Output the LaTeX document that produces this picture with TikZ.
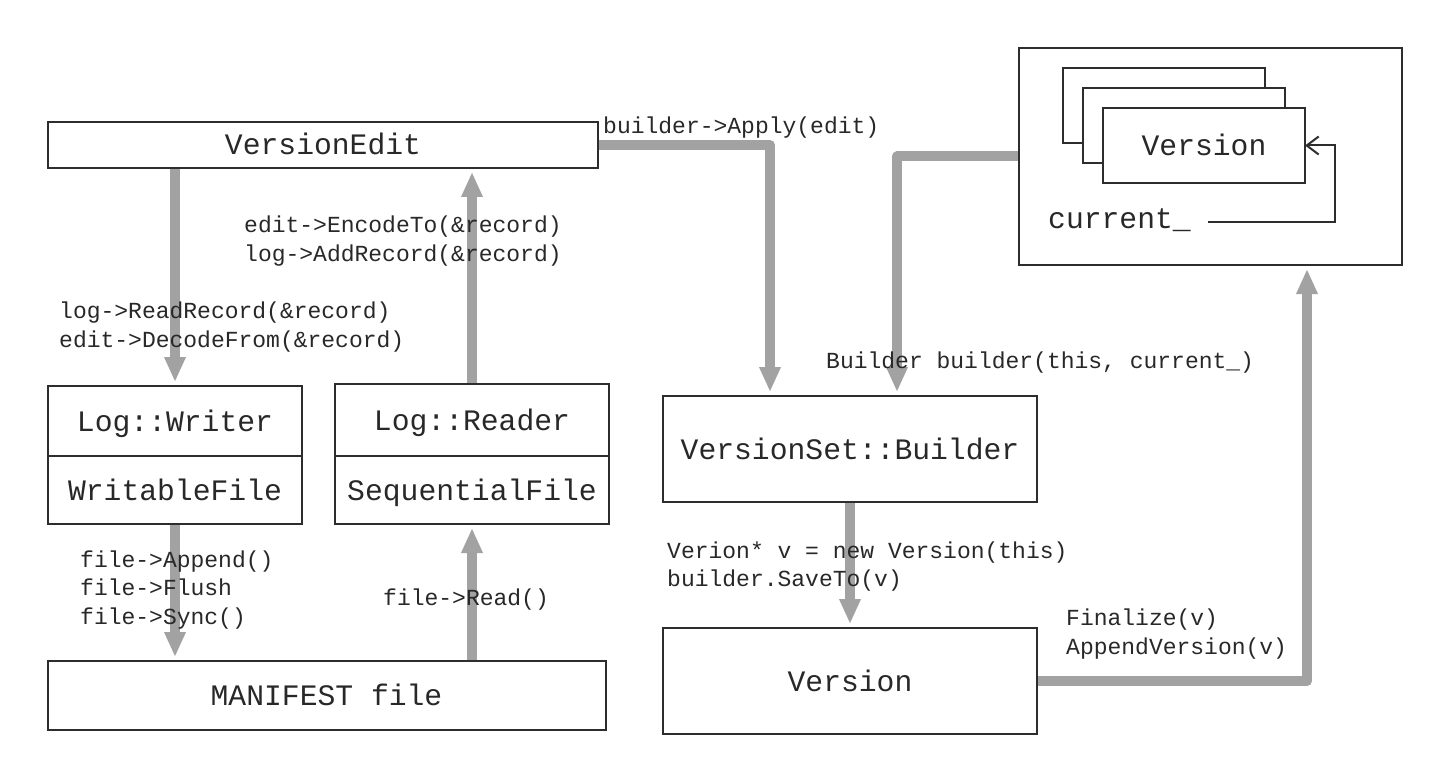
\documentclass[tikz,border=0pt]{standalone}
\usepackage{fontspec}
\setmonofont{Liberation Mono}
\usetikzlibrary{arrows.meta}
\definecolor{arrowgray}{RGB}{162,162,162}
\definecolor{boxline}{RGB}{45,45,45}
\definecolor{txt}{RGB}{40,40,40}
\begin{document}
\begin{tikzpicture}[x=1pt,y=-1pt,
  box/.style={draw=boxline, line width=2pt, fill=white, inner sep=0pt, outer sep=0pt,
    font=\fontsize{29.7}{36}\selectfont\ttfamily, text=txt, text height=23pt, text depth=3pt},
  lbl/.style={font=\fontsize{23}{28.7}\selectfont\ttfamily, text=txt, inner sep=0pt, align=left, anchor=west, yshift=-2pt},
  bigtxt/.style={font=\fontsize{29.7}{36}\selectfont\ttfamily, text=txt, inner sep=0pt},
  flow/.style={draw=arrowgray, line width=10pt, line join=round, -{Triangle[width=20pt,length=25pt]}, shorten >=4pt, shorten <=1pt},
  ptr/.style={draw=boxline, line width=2pt, -{Straight Barb[length=12pt,width=18pt]}}
]
\useasboundingbox (0,0) rectangle (1434,767);

% left column boxes
\node[box, minimum width=550pt, minimum height=46pt] (edit) at (323,145) {VersionEdit};
\node[box, minimum width=254pt, minimum height=70pt] (writer) at (175,421) {Log::Writer};
\node[box, minimum width=254pt, minimum height=68pt] (wfile) at (175,490) {WritableFile};
\node[box, minimum width=274pt, minimum height=72pt] (reader) at (472,420) {Log::Reader};
\node[box, minimum width=274pt, minimum height=68pt] (rfile) at (472,490) {SequentialFile};
\node[box, minimum width=558pt, minimum height=69pt] (manifest) at (326.5,695.5) {MANIFEST file};

% right column boxes
\node[box, minimum width=374pt, minimum height=106pt] (builder) at (850,449) {VersionSet::Builder};
\node[box, minimum width=374pt, minimum height=106pt] (version) at (850,681) {Version};

% version set container
\node[box, minimum width=383pt, minimum height=217pt] (outer) at (1210.5,156.5) {};
\node[box, minimum width=202pt, minimum height=75pt] (vback) at (1164,105.5) {};
\node[box, minimum width=202pt, minimum height=75pt] (vmid) at (1184,125.5) {};
\node[box, minimum width=202pt, minimum height=75pt] (front) at (1204,145.5) {Version};
\node[bigtxt, anchor=base west] (cur) at (1048,229) {current\_};
\draw[ptr] ([shift={(17pt,7pt)}]cur.base east) -| ([xshift=30pt]front.east) -- (front.east);

% flows
\draw[flow] (writer.north |- edit.south) -- (writer.north);
\draw[flow] (reader.north) -- (reader.north |- edit.south);
\draw[flow] (wfile.south) -- (wfile.south |- manifest.north);
\draw[flow] (manifest.north -| rfile.south) -- (rfile.south);
\draw[flow] (edit.east) -| ([xshift=-80pt]builder.north);
\draw[flow] (outer.west) -| ([xshift=47pt]builder.north);
\draw[flow] (builder.south) -- (version.north);
\draw[flow] (version.east) -| ([xshift=96.5pt]outer.south);

% labels
\node[lbl] (lapply) at (603,126) {builder->Apply(edit)};
\node[lbl] (lencode) at (244,239) {edit->EncodeTo(\&record)\\log->AddRecord(\&record)};
\node[lbl] (lread) at (59,325) {log->ReadRecord(\&record)\\edit->DecodeFrom(\&record)};
\node[lbl] (lappend) at (80,588) {file->Append()\\file->Flush\\file->Sync()};
\node[lbl] (lfread) at (383,598) {file->Read()};
\node[lbl] (lbuilder) at (826,361) {Builder builder(this, current\_)};
\node[lbl] (lsave) at (667,564.5) {Verion* v = new Version(this)\\builder.SaveTo(v)};
\node[lbl] (lfinal) at (1066,632) {Finalize(v)\\AppendVersion(v)};
\end{tikzpicture}
\end{document}
